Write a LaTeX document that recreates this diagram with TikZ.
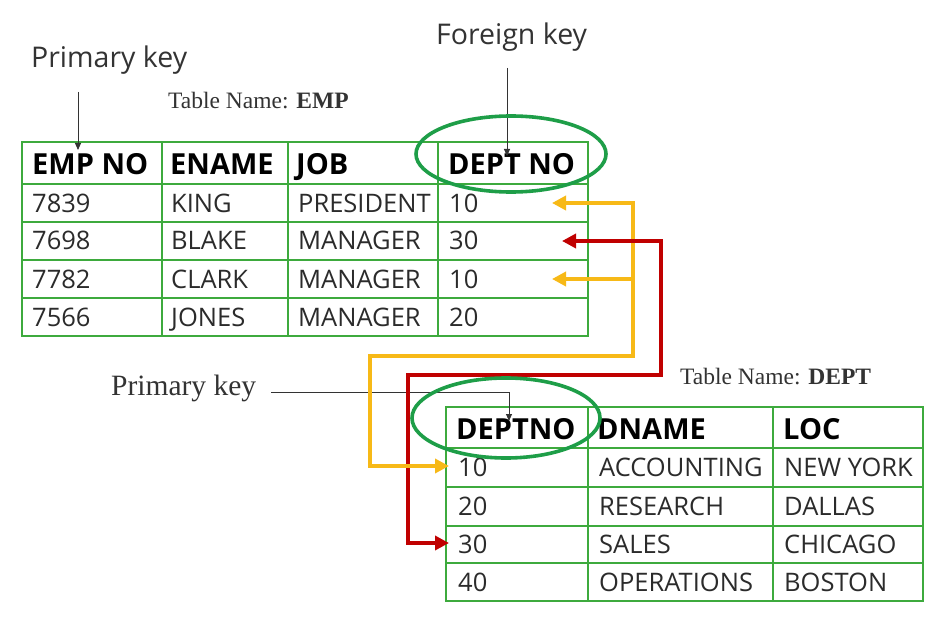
\documentclass[tikz,border=0pt]{standalone}
\usepackage{fontspec}
\setmainfont{Liberation Serif}
\setsansfont{Open Sans}
\usetikzlibrary{arrows.meta}
\definecolor{tblgreen}{HTML}{3DAA3D}
\definecolor{ringgreen}{HTML}{1E9E48}
\definecolor{yelarrow}{HTML}{F7B917}
\definecolor{redarrow}{HTML}{C00000}
\definecolor{datagray}{HTML}{2B2B2B}
\definecolor{notegray}{HTML}{333333}
\begin{document}
\begin{tikzpicture}[x=1pt,y=-1pt,
  tbl/.style={draw=tblgreen,line width=1.8pt},
  hd/.style={anchor=base west,inner sep=0pt,font=\sffamily\bfseries\fontsize{29}{34}\selectfont,text=black},
  cell/.style={anchor=base west,inner sep=0pt,font=\sffamily\fontsize{25.5}{30}\selectfont,text=datagray},
  bignote/.style={anchor=west,inner sep=0pt,font=\sffamily\fontsize{28.5}{34}\selectfont,text=notegray},
  sernote/.style={anchor=west,inner sep=0pt,font=\rmfamily\fontsize{29.5}{34}\selectfont,text=notegray},
  tname/.style={anchor=west,inner sep=0pt,font=\rmfamily\fontsize{23.5}{28}\selectfont,text=notegray},
  pointer/.style={draw=notegray,line width=0.9pt,-{Triangle[length=7pt,width=6pt]}},
  ring/.style={draw=ringgreen,line width=3.6pt},
  yel/.style={draw=yelarrow,line width=4pt,line join=miter},
  redl/.style={draw=redarrow,line width=4.2pt,line join=miter},
  ytip/.style={-{Triangle[length=14pt,width=14pt]}},
]
\useasboundingbox (0,0) rectangle (946,623);
\fill[white] (0,0) rectangle (946,623);

% ---- EMP table grid
\draw[tbl] (22,142) rectangle (588,336);
\foreach \yy in {184,222,260,298} \draw[tbl] (22,\yy) -- (588,\yy);
\foreach \xx in {162,288,438} \draw[tbl] (\xx,142) -- (\xx,336);

% ---- DEPT table grid
\draw[tbl] (446,407) rectangle (923,601);
\foreach \yy in {448,487,526,563} \draw[tbl] (446,\yy) -- (923,\yy);
\foreach \xx in {588,773} \draw[tbl] (\xx,407) -- (\xx,601);

% ---- EMP texts
\node[hd] (eh1) at (32,174.5) {EMP NO};
\node[hd] (eh2) at (170,174.5) {ENAME};
\node[hd] (eh3) at (296,174.5) {JOB};
\node[hd] (eh4) at (448,174.5) {DEPT NO};
\node[cell] (e11) at (32,212) {7839};
\node[cell] (e12) at (171,212) {KING};
\node[cell] (e13) at (298,212) {PRESIDENT};
\node[cell] (e14) at (449,212) {10};
\node[cell] (e21) at (32,250) {7698};
\node[cell] (e22) at (171,250) {BLAKE};
\node[cell] (e23) at (298,250) {MANAGER};
\node[cell] (e24) at (449,250) {30};
\node[cell] (e31) at (32,288) {7782};
\node[cell] (e32) at (171,288) {CLARK};
\node[cell] (e33) at (298,288) {MANAGER};
\node[cell] (e34) at (449,288) {10};
\node[cell] (e41) at (32,326) {7566};
\node[cell] (e42) at (171,326) {JONES};
\node[cell] (e43) at (298,326) {MANAGER};
\node[cell] (e44) at (449,326) {20};

% ---- DEPT texts
\node[hd] (dh1) at (456,439.5) {DEPTNO};
\node[hd] (dh2) at (597,439.5) {DNAME};
\node[hd] (dh3) at (783,439.5) {LOC};
\node[cell] (d11) at (458,476) {10};
\node[cell] (d12) at (599,476) {ACCOUNTING};
\node[cell] (d13) at (784,476) {NEW YORK};
\node[cell] (d21) at (458,515) {20};
\node[cell] (d22) at (599,515) {RESEARCH};
\node[cell] (d23) at (784,515) {DALLAS};
\node[cell] (d31) at (458,553) {30};
\node[cell] (d32) at (599,553) {SALES};
\node[cell] (d33) at (784,553) {CHICAGO};
\node[cell] (d41) at (458,591) {40};
\node[cell] (d42) at (599,591) {OPERATIONS};
\node[cell] (d43) at (784,591) {BOSTON};

% ---- labels
\node[bignote] (pk1) at (31,60) {Primary key};
\node[bignote] (fk) at (436,37) {Foreign key};
\node[tname] (tn1) at (168,101) {Table Name: \textbf{EMP}};
\node[tname] (tn2) at (680,377) {Table Name: \textbf{DEPT}};
\node[sernote] (pk2) at (111,388) {Primary key};

% ---- pointers
\coordinate (pk1s) at (78,92);
\coordinate (pk1e) at (78,150);
\draw[pointer] (pk1s) -- (pk1e);
\coordinate (fks) at (507,68);
\coordinate (fke) at (507,156);
\draw[pointer] (fks) -- (fke);
\coordinate (pk2s) at (271,392);
\coordinate (pk2c) at (509,392);
\coordinate (pk2e) at (509,421);
\draw[pointer] (pk2s) -- (pk2c) -- (pk2e);

% ---- red connector
\coordinate (rt1) at (562,241);
\coordinate (ra) at (661,241);
\coordinate (rb) at (661,375);
\coordinate (rc) at (408,375);
\coordinate (rd) at (408,543);
\coordinate (rt2) at (449,543);

% ---- yellow connector
\coordinate (yt1) at (552,203);
\coordinate (ya) at (633,203);
\coordinate (ym) at (633,279);
\coordinate (yt2) at (552,279);
\coordinate (yb) at (633,356);
\coordinate (yc) at (370,356);
\coordinate (yd) at (370,466);
\coordinate (yt3) at (449,466);

\draw[redl,{Triangle[length=14pt,width=14pt]}-{Triangle[length=14pt,width=14pt]}] (rt1) -- (ra) -- (rb) -- (rc) -- (rd) -- (rt2);
\draw[yel,{Triangle[length=14pt,width=14pt]}-{Triangle[length=14pt,width=14pt]}] (yt1) -- (ya) -- (yb) -- (yc) -- (yd) -- (yt3);
\draw[yel,ytip] (ym) -- (yt2);
\draw[redl] (rt1) ++(12,0) -- (ra);

% ---- key rings
\draw[ring] (511,154) ellipse [x radius=95, y radius=38];
\draw[ring] (506,418) ellipse [x radius=94, y radius=40];
\end{tikzpicture}
\end{document}
